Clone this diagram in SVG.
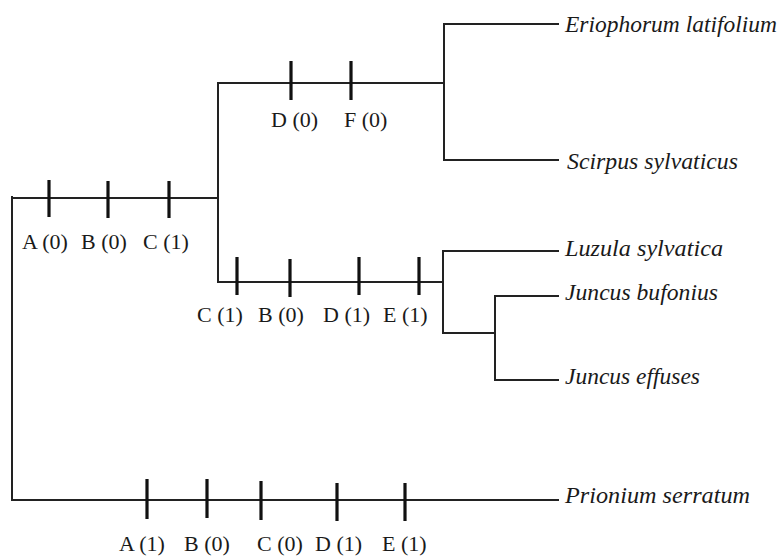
<svg xmlns="http://www.w3.org/2000/svg" width="780" height="557" viewBox="0 0 780 557">
  <style>
    .br { fill: none; stroke: #222; stroke-width: 2; stroke-linecap: square; }
    .tick { stroke: #111; stroke-width: 3.2; }
    .st { font-family: "Liberation Serif", "Times New Roman", serif; font-size: 22px; fill: #1a1a1a; }
    .sp { font-family: "Liberation Serif", "Times New Roman", serif; font-style: italic; font-size: 23px; fill: #1a1a1a; }
  </style>

  <!-- tree branches -->
  <g id="connectors">
    <!-- root -->
    <path class="br" d="M12,197 V500"/>
    <path class="br" d="M12,198 H218"/>
    <path class="br" d="M12,500 H558"/>
    <!-- inner clade split -->
    <path class="br" d="M218,83 V282"/>
    <path class="br" d="M218,83 H444"/>
    <path class="br" d="M218,282 H443"/>
    <!-- Eriophorum / Scirpus -->
    <path class="br" d="M444,24 V160"/>
    <path class="br" d="M444,24 H558"/>
    <path class="br" d="M444,160 H558"/>
    <!-- Luzula / Juncus -->
    <path class="br" d="M443,251 V333"/>
    <path class="br" d="M443,251 H558"/>
    <path class="br" d="M443,333 H495"/>
    <path class="br" d="M495,296 V380"/>
    <path class="br" d="M495,296 H558"/>
    <path class="br" d="M495,380 H558"/>
  </g>

  <!-- character changes on the stem of the ingroup -->
  <g id="stem-ingroup">
    <line class="tick" x1="49" y1="180" x2="49" y2="217"/>
    <line class="tick" x1="108" y1="181" x2="108" y2="218"/>
    <line class="tick" x1="169" y1="181" x2="169" y2="218"/>
    <text class="st" x="22" y="249">A (0)</text>
    <text class="st" x="81" y="249">B (0)</text>
    <text class="st" x="143" y="249">C (1)</text>
  </g>

  <!-- character changes on the Cyperaceae stem -->
  <g id="stem-upper">
    <line class="tick" x1="291" y1="61" x2="291" y2="100"/>
    <line class="tick" x1="351" y1="61" x2="351" y2="100"/>
    <text class="st" x="271" y="127">D (0)</text>
    <text class="st" x="344" y="127">F (0)</text>
  </g>

  <!-- character changes on the Juncaceae stem -->
  <g id="stem-lower">
    <line class="tick" x1="237" y1="257" x2="237" y2="295"/>
    <line class="tick" x1="290" y1="259" x2="290" y2="297"/>
    <line class="tick" x1="359" y1="257" x2="359" y2="295"/>
    <line class="tick" x1="419" y1="257" x2="419" y2="295"/>
    <text class="st" x="197" y="322">C (1)</text>
    <text class="st" x="258" y="322">B (0)</text>
    <text class="st" x="323" y="322">D (1)</text>
    <text class="st" x="383" y="322">E (1)</text>
  </g>

  <!-- character changes on the outgroup stem -->
  <g id="stem-outgroup">
    <line class="tick" x1="147" y1="479" x2="147" y2="519"/>
    <line class="tick" x1="207" y1="479" x2="207" y2="518"/>
    <line class="tick" x1="261" y1="481" x2="261" y2="520"/>
    <line class="tick" x1="337" y1="483" x2="337" y2="521"/>
    <line class="tick" x1="405" y1="483" x2="405" y2="521"/>
    <text class="st" x="119" y="551">A (1)</text>
    <text class="st" x="184" y="551">B (0)</text>
    <text class="st" x="257" y="551">C (0)</text>
    <text class="st" x="315" y="551">D (1)</text>
    <text class="st" x="382" y="551">E (1)</text>
  </g>

  <!-- taxa -->
  <g id="eriophorum"><text class="sp" x="565" y="32" textLength="212" lengthAdjust="spacingAndGlyphs">Eriophorum latifolium</text></g>
  <g id="scirpus"><text class="sp" x="567" y="169" textLength="171" lengthAdjust="spacingAndGlyphs">Scirpus sylvaticus</text></g>
  <g id="luzula"><text class="sp" x="565" y="256" textLength="158" lengthAdjust="spacingAndGlyphs">Luzula sylvatica</text></g>
  <g id="juncus-bufonius"><text class="sp" x="565" y="300" textLength="153" lengthAdjust="spacingAndGlyphs">Juncus bufonius</text></g>
  <g id="juncus-effuses"><text class="sp" x="565" y="384" textLength="135" lengthAdjust="spacingAndGlyphs">Juncus effuses</text></g>
  <g id="prionium"><text class="sp" x="565" y="503" textLength="185" lengthAdjust="spacingAndGlyphs">Prionium serratum</text></g>
</svg>
